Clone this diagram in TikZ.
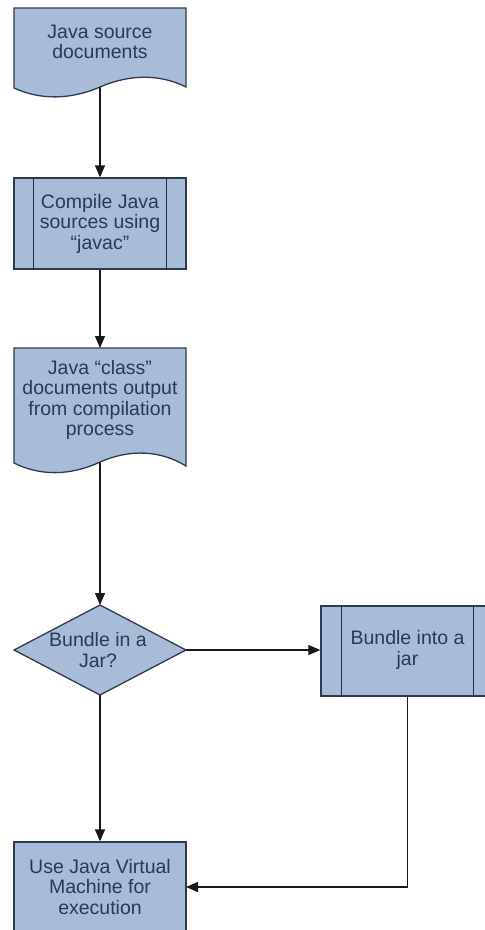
\documentclass[tikz,border=0pt]{standalone}
\usepackage{fontspec}
\setmainfont{Liberation Sans}
\usetikzlibrary{arrows.meta}
\definecolor{boxfill}{RGB}{168,188,216}
\definecolor{boxline}{RGB}{48,58,78}
\definecolor{innerline}{RGB}{30,44,70}
\definecolor{txt}{RGB}{40,58,88}
\definecolor{conn}{RGB}{25,25,25}
\begin{document}
\begin{tikzpicture}[x=1pt,y=-1pt,
  lbl/.style={text=txt,align=center,font=\fontsize{19.5}{20.5}\selectfont,inner sep=0pt},
  shapefill/.style={fill=boxfill,draw=boxline,line width=1.3pt},
  procbox/.style={shapefill,rectangle,inner sep=0pt},
  innerl/.style={draw=innerline,line width=1.5pt},
  conn/.style={draw=conn,line width=1.3pt},
  arr/.style={conn,-{Triangle[width=10pt,length=12pt]}}]
\useasboundingbox (0,0) rectangle (485,930);
\clip (0,0) rectangle (485,930);
% document 1
\draw[shapefill] (14,8) -- (186,8) -- (186,87)
  .. controls (160,74) and (130,74) .. (100,87)
  .. controls (70,100) and (40,100) .. (14,88) -- cycle;
\node[lbl] (src) at (100,42) {Java source\\documents};
\coordinate (srcb) at (100,87);
% compile
\node[procbox,minimum width=172pt,minimum height=91pt] (comp) at (100,223.5) {};
\draw[innerl] ([xshift=20pt]comp.north west) -- ([xshift=20pt]comp.south west)
  ([xshift=-20pt]comp.north east) -- ([xshift=-20pt]comp.south east);
\node[lbl] (compt) at (comp.center) {Compile Java\\sources using\\\char"201Cjavac\char"201D};
% document 2
\draw[shapefill] (14,348) -- (186,348) -- (186,466)
  .. controls (160,450) and (130,449) .. (100,462)
  .. controls (70,476) and (40,476) .. (14,463) -- cycle;
\coordinate (cls) at (100,348);
\node[lbl] (clst) at (100,400) {Java \char"201Cclass\char"201D\\documents output\\from compilation\\process};
\coordinate (clsb) at (100,462);
% decision
\coordinate (dect) at (100,605);
\coordinate (decr) at (186,650);
\coordinate (decb) at (100,695);
\coordinate (decl) at (14,650);
\draw[shapefill] (dect) -- (decr) -- (decb) -- (decl) -- cycle;
\node[lbl] (dec) at (98,650) {Bundle in a\\Jar?};
% bundle box
\node[procbox,minimum width=173pt,minimum height=90pt] (jar) at (407.5,651) {};
\draw[innerl] ([xshift=21pt]jar.north west) -- ([xshift=21pt]jar.south west)
  ([xshift=-21pt]jar.north east) -- ([xshift=-21pt]jar.south east);
\node[lbl] (jart) at (407.5,650) {Bundle into a\\jar};
% JVM box
\node[procbox,minimum width=172pt,minimum height=96pt] (jvm) at (100,890) {};
\node[lbl] (jvmt) at (100,887) {Use Java Virtual\\Machine for\\execution};
\coordinate (jvmr) at (186,887);
% connectors
\draw[arr] (srcb) -- (comp.north);
\draw[arr] (comp.south) -- (cls);
\draw[arr] (clsb) -- (dect);
\draw[arr] (decr) -- (decr -| jar.west);
\draw[arr] (decb) -- (jvm.north -| decb);
\draw[arr] (jar.south) |- (jvmr);
\end{tikzpicture}
\end{document}
